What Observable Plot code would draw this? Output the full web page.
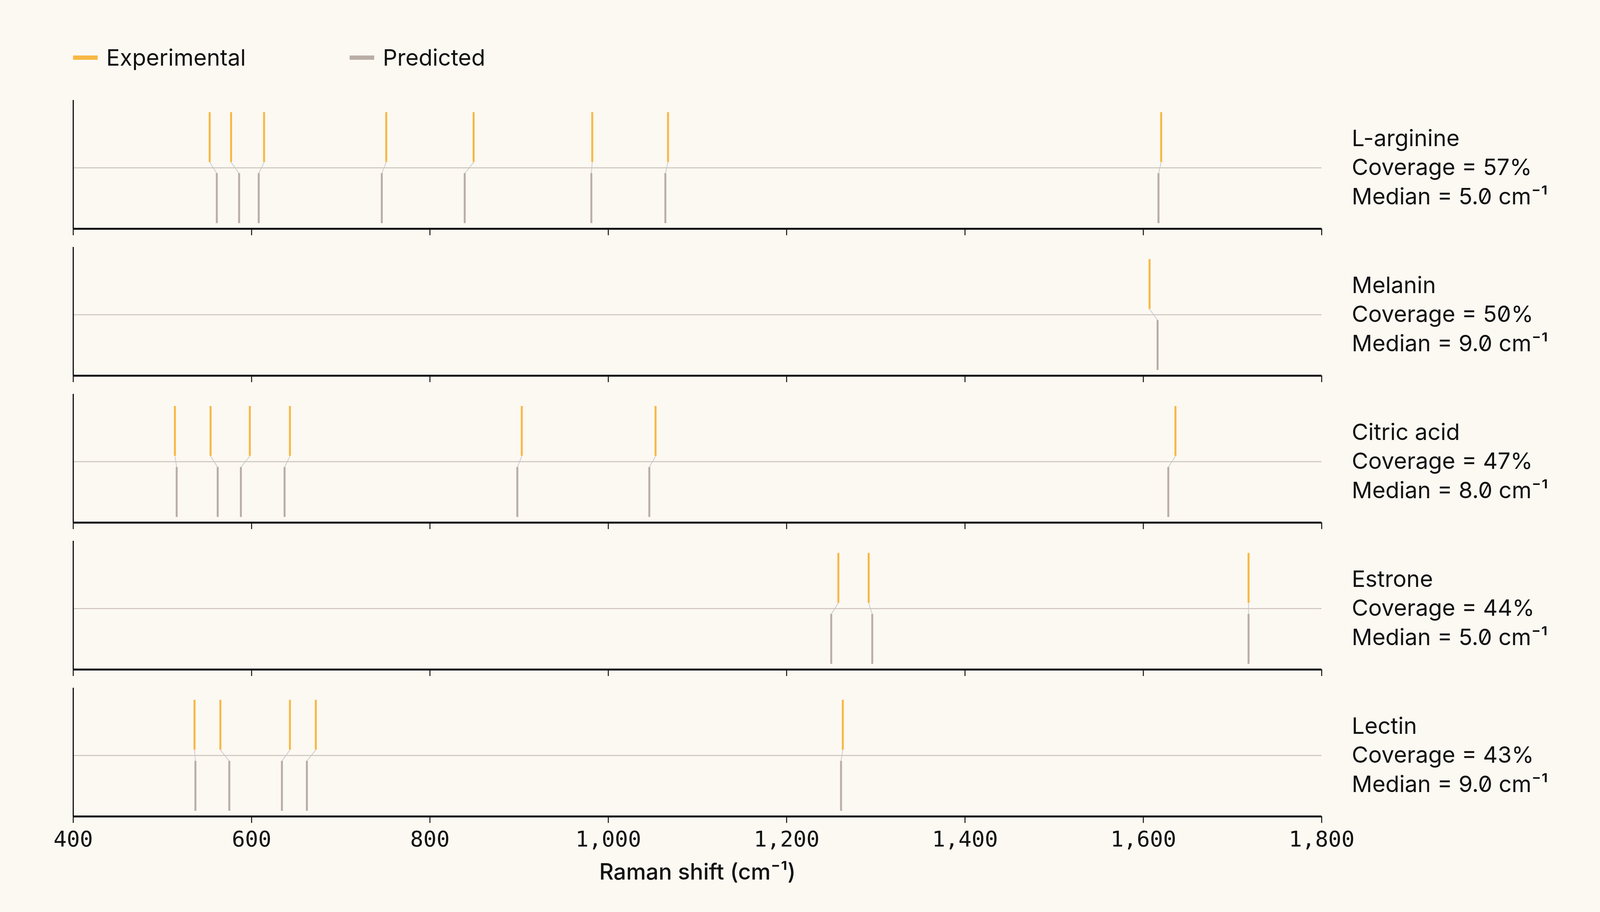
<!DOCTYPE html>
<html>
<head>
<meta charset="utf-8">
<script src="https://cdn.jsdelivr.net/npm/d3@7"></script>
<script src="https://cdn.jsdelivr.net/npm/@observablehq/plot@0.6"></script>
<style>
  html, body { margin: 0; padding: 0; background: #fcf8f2; }
  body { width: 4167px; height: 2334px; overflow: hidden; font-family: Inter, "Noto Sans", sans-serif; color: #111; }
  #legend { position: relative; height: 200px; font-size: 58px; }
  .item { position: absolute; top: 147px; transform: translateY(-50%); display: flex; align-items: center; line-height: 1; }
  .swatch { width: 63px; height: 11px; margin-right: 22px; }
  #chart svg { display: block; }
  #chart text { font-feature-settings: "zero" 1; }
</style>
</head>
<body>
<div id="legend">
  <div class="item" style="left:187px"><span class="swatch" style="background:#f7b843"></span>Experimental</div>
  <div class="item" style="left:895px"><span class="swatch" style="background:#b9aea6"></span>Predicted</div>
</div>
<div id="chart"></div>
<script>
// compounds, top to bottom
const compounds = ["L-arginine", "Melanin", "Citric acid", "Estrone", "Lectin"];
const coverage = [57, 50, 47, 44, 43];
const medianError = [5.0, 9.0, 8.0, 5.0, 9.0];

// matched peak positions (cm-1)
const experimental = [
  [553, 577, 614, 751, 849, 982, 1067, 1620],
  [1607],
  [514, 554, 598, 643, 903, 1053, 1636],
  [1258, 1292, 1718],
  [536, 565, 643, 672, 1263]
];
const predicted = [
  [561, 586, 608, 746, 839, 981, 1064, 1617],
  [1616],
  [516, 562, 588, 637, 898, 1046, 1628],
  [1250, 1296, 1718],
  [537, 575, 634, 662, 1261]
];

const xTicks = [400, 600, 800, 1000, 1200, 1400, 1600, 1800];

const orange = "#f7b843";
const grey = "#b9aea6";

const peaks = compounds.flatMap((c, i) =>
  experimental[i].map((e, j) => ({compound: c, exp: e, pred: predicted[i][j]}))
);
const labels = compounds.map((c, i) => ({
  compound: c,
  text: `${c}\nCoverage = ${coverage[i]}%\nMedian = ${medianError[i].toFixed(1)} cm⁻¹`
}));

const yMin = -1.0986, yMax = 1.2183;

const plot = Plot.plot({
  width: 4167,
  height: 2134,
  marginTop: 55,
  marginBottom: 244,
  marginLeft: 187,
  marginRight: 784,
  x: {domain: [400, 1800]},
  y: {domain: [yMin, yMax], axis: null},
  fy: {domain: compounds, paddingInner: 0.126, paddingOuter: 0, axis: null},
  style: {
    background: "#fcf8f2",
    fontFamily: "Inter, 'Noto Sans', sans-serif",
    fontSize: "56px",
    color: "#111"
  },
  marks: [
    Plot.ruleY([0], {stroke: "#cbc3bb", strokeWidth: 2.5}),
    Plot.link(peaks, {
      fy: "compound", x1: "exp", y1: 0.1, x2: "pred", y2: -0.1,
      stroke: "#bfc3ca", strokeWidth: 1.6
    }),
    Plot.ruleX(peaks, {fy: "compound", x: "exp", y1: 0.1, y2: 1, stroke: orange, strokeWidth: 5}),
    Plot.ruleX(peaks, {fy: "compound", x: "pred", y1: -1, y2: -0.1, stroke: grey, strokeWidth: 5}),
    Plot.ruleX([400], {stroke: "#111", strokeWidth: 3}),
    Plot.ruleY([yMin], {stroke: "#111", strokeWidth: 5}),
    // tick marks under every panel
    Plot.axisX({ticks: xTicks, tickSize: 17, tickFormat: () => "", strokeWidth: 2.5, label: null, facetAnchor: null}),
    // tick labels only under the last panel
    Plot.axisX({
      ticks: xTicks, tickSize: 0, tickPadding: 37, tickFormat: d3.format(","),
      fontFamily: "'DejaVu Sans Mono', monospace", fontSize: 56, label: null,
      facetAnchor: "bottom"
    }),
    Plot.text(["Raman shift (cm⁻¹)"], {
      frameAnchor: "bottom", dy: 143, lineAnchor: "middle",
      fontSize: 57, fontWeight: 500, facetAnchor: "bottom"
    }),
    Plot.text(labels, {
      fy: "compound", text: "text", frameAnchor: "right", y: () => 0,
      dx: 77, dy: -5, textAnchor: "start", lineAnchor: "middle", lineHeight: 1.29,
      fontSize: 58, fill: "#111"
    })
  ]
});

d3.select("#chart").append(() => plot);
</script>
</body>
</html>
